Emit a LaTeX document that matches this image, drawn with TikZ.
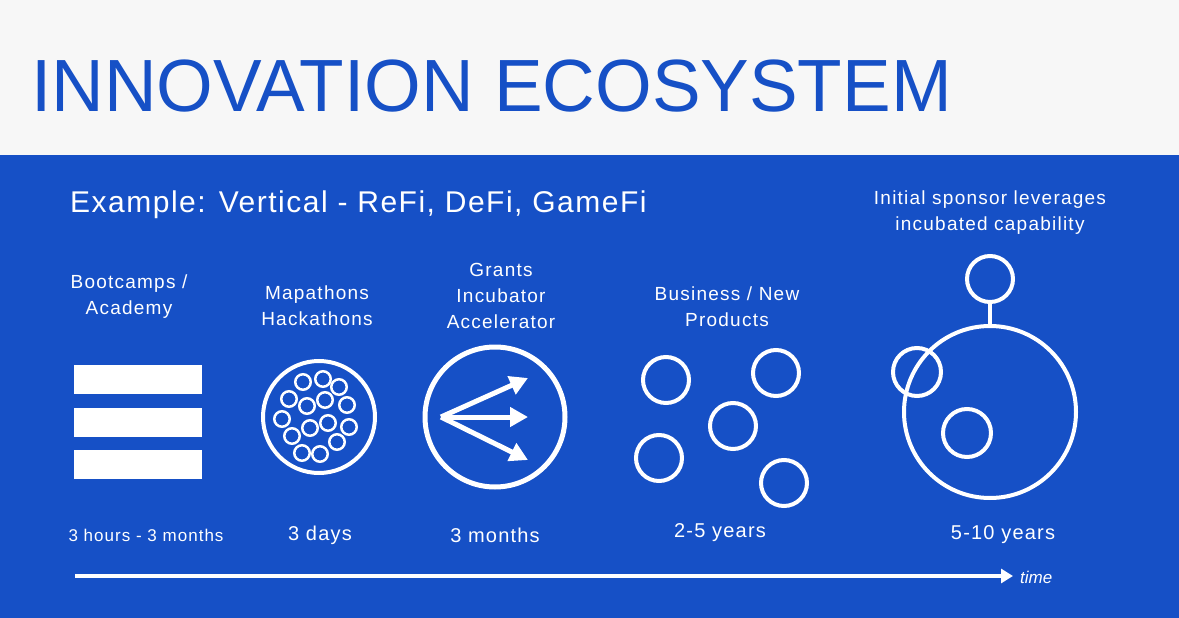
\documentclass[tikz,border=0pt]{standalone}
\usepackage{fontspec}
\setmainfont{Liberation Sans}
\usetikzlibrary{arrows.meta}
\definecolor{ecoblue}{HTML}{1650C6}
\definecolor{ecogray}{HTML}{F7F7F7}
\tikzset{
  ring/.style={circle, draw=white, line width=4pt, inner sep=0pt, minimum size=#1},
  bubble/.style={circle, draw=white, line width=2.5pt, inner sep=0pt, minimum size=15.5pt},
  head/.style={text=white, align=center, font=\fontsize{19}{26}\selectfont\addfontfeature{LetterSpace=6.5}},
  span/.style={text=white, font=\fontsize{20}{24}\selectfont\addfontfeature{LetterSpace=6}},
  bar/.style={fill=white},
  push/.style={white, line width=5pt, -{Triangle[length=18pt,width=19pt]}}
}
\begin{document}
\begin{tikzpicture}[x=1pt,y=-1pt]
\useasboundingbox (0,0) rectangle (1179,618);
\fill[ecogray] (0,0) rectangle (1179,155);
\fill[ecoblue] (0,155) rectangle (1179,618);

\node[anchor=base west, inner sep=0pt, text=ecoblue, font=\fontsize{74}{80}\selectfont] (title) at (31,111) {\scalebox{0.985}[1]{INNOVATION ECOSYSTEM}};
\node[anchor=base west, inner sep=0pt, text=white, font=\fontsize{30}{34}\selectfont\addfontfeature{LetterSpace=5}] (sub) at (70,212) {Example: Vertical - ReFi, DeFi, GameFi};

% headings
\node[head] (boot) at (129,297) {Bootcamps /\\Academy};
\node[head] (mapa) at (317,306) {Mapathons\\Hackathons};
\node[head] (grant) at (501,296) {Grants\\Incubator\\Accelerator};
\node[head] (biz) at (727,307) {Business / New\\Products};
\node[head] (spon) at (990,213) {Initial sponsor leverages\\incubated capability};

% bootcamps
\fill[bar] (74,365) rectangle (202,394);
\fill[bar] (74,408) rectangle (202,437);
\fill[bar] (74,450) rectangle (202,479);

% mapathons
\node[ring=112pt] (hack) at (319,417) {};
\foreach \x/\y [count=\i] in {303/382,323/379,339/387,289/399,307/406,325/400,347/405,282/419,310/428,328/423,349/427,292/436,337/442,302/453,320/454}
  \node[bubble] (b\i) at (\x,\y) {};

% grants
\node[ring=140pt, line width=5pt] (inc) at (495,417) {};
\coordinate (src) at (441,417);
\coordinate (t1) at (528,378);
\coordinate (t2) at (528,417);
\coordinate (t3) at (528,460);
\draw[push] (src) -- (t1);
\draw[push] (src) -- (t2);
\draw[push] (src) -- (t3);

% business
\node[ring=46pt] (c1) at (666,380) {};
\node[ring=46pt] (c2) at (776,373) {};
\node[ring=46pt] (c3) at (733,426) {};
\node[ring=46pt] (c4) at (659,458) {};
\node[ring=46pt] (c5) at (784,483) {};

% sponsor
\node[ring=172pt] (big) at (990,412) {};
\node[ring=46pt] (top) at (990,279) {};
\node[ring=48pt] (side) at (917,372) {};
\node[ring=48pt] (core) at (967,433) {};
\draw[white, line width=4pt] (top.south) -- (big.north);

% durations
\node[span, font=\fontsize{17}{20}\selectfont\addfontfeature{LetterSpace=6}] (d1) at (146,535) {3 hours - 3 months};
\node[span] (d2) at (320,535) {3 days};
\node[span] (d3) at (495,535) {3 months};
\node[span] (d4) at (720,533) {2-5 years};
\node[span] (d5) at (1003,535) {5-10 years};

% time axis
\coordinate (t0) at (75,576);
\coordinate (tend) at (1013,576);
\draw[white, line width=4pt, -{Triangle[length=12pt,width=14pt]}] (t0) -- (tend);
\node[anchor=west, text=white, inner sep=0pt, font=\fontsize{17}{20}\selectfont\itshape] (time) at (1020,577) {time};
\end{tikzpicture}
\end{document}
